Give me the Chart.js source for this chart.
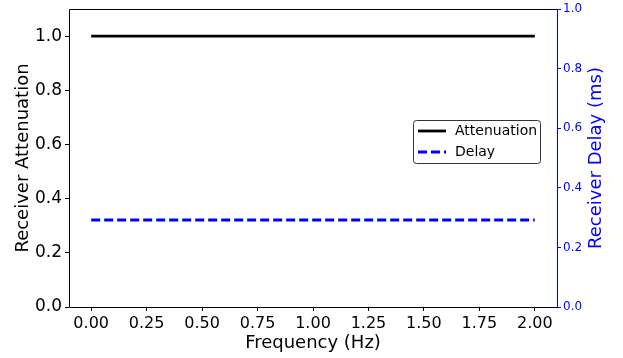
<!DOCTYPE html>
<html>
<head>
<meta charset="utf-8">
<script src="https://cdn.jsdelivr.net/npm/chart.js@4.4.0/dist/chart.umd.min.js"></script>
<style>
  html, body { margin: 0; padding: 0; background: #fff; }
  #wrap { width: 623px; height: 358px; }
</style>
</head>
<body>
<div id="wrap"><canvas id="chart" width="623" height="358"></canvas></div>
<script>
// data
const frequency = [0.0, 0.5, 1.0, 1.5, 2.0];
const attenuation = [1.0, 1.0, 1.0, 1.0, 1.0];
const delayMs = [0.292, 0.292, 0.292, 0.292, 0.292];

const xTicks = [0.0, 0.25, 0.5, 0.75, 1.0, 1.25, 1.5, 1.75, 2.0];
const leftTicks = [0.0, 0.2, 0.4, 0.6, 0.8, 1.0];
const rightTicks = [0.0, 0.2, 0.4, 0.6, 0.8, 1.0];

const FONT = "'DejaVu Sans', sans-serif";
const BLUE = '#0000ff';
const RIGHT_TITLE = 'Receiver Delay (ms)';

// box round the plot: black, right spine blue; right title drawn bottom-to-top
const framePlugin = {
  id: 'frame',
  afterDraw(chart) {
    const { ctx, chartArea: a } = chart;
    ctx.save();
    ctx.lineWidth = 1;
    ctx.strokeStyle = '#000';
    ctx.beginPath();
    ctx.moveTo(a.right, a.top + 0.5);
    ctx.lineTo(a.left + 0.5, a.top + 0.5);
    ctx.lineTo(a.left + 0.5, a.bottom + 0.5);
    ctx.lineTo(a.right, a.bottom + 0.5);
    ctx.stroke();
    ctx.strokeStyle = BLUE;
    ctx.beginPath();
    ctx.moveTo(a.right + 0.5, a.top);
    ctx.lineTo(a.right + 0.5, a.bottom + 1);
    ctx.stroke();

    // twin axis title, same direction as the left one
    ctx.translate(a.right + 39, (a.top + a.bottom) / 2);
    ctx.rotate(-Math.PI / 2);
    ctx.fillStyle = BLUE;
    ctx.font = '18px ' + FONT;
    ctx.textAlign = 'center';
    ctx.textBaseline = 'middle';
    ctx.fillText(RIGHT_TITLE, 0, 0);
    ctx.restore();
  }
};

// legend box inside the plot, like matplotlib
const legendPlugin = {
  id: 'boxLegend',
  afterDraw(chart) {
    const { ctx, chartArea: a } = chart;
    const w = 127, h = 43;
    const x = a.right - 17 - w, y = a.top + 111;
    ctx.save();
    ctx.fillStyle = 'rgba(255,255,255,0.9)';
    ctx.strokeStyle = '#333';
    ctx.lineWidth = 1;
    ctx.beginPath();
    ctx.roundRect(x + 0.5, y + 0.5, w, h, 3);
    ctx.fill();
    ctx.stroke();
    chart.data.datasets.forEach((ds, i) => {
      const ly = y + 11 + i * 21;
      ctx.strokeStyle = ds.borderColor;
      ctx.lineWidth = ds.borderWidth;
      ctx.setLineDash(ds.borderDash || []);
      ctx.beginPath();
      ctx.moveTo(x + 5, ly);
      ctx.lineTo(x + 33, ly);
      ctx.stroke();
      ctx.setLineDash([]);
      ctx.fillStyle = '#000';
      ctx.font = '14px ' + FONT;
      ctx.textBaseline = 'middle';
      ctx.fillText(ds.label, x + 42, ly);
    });
    ctx.restore();
  }
};

// keep the library from adding room for half tick labels
function noPad(axis) {
  axis.paddingTop = 0;
  axis.paddingBottom = 0;
  axis.paddingLeft = 0;
  axis.paddingRight = 0;
}

new Chart(document.getElementById('chart'), {
  type: 'line',
  data: {
    labels: frequency,
    datasets: [{
      label: 'Attenuation',
      data: frequency.map((f, i) => ({ x: f, y: attenuation[i] })),
      borderColor: '#000',
      borderWidth: 2.8,
      pointRadius: 0,
      yAxisID: 'y'
    }, {
      label: 'Delay',
      data: frequency.map((f, i) => ({ x: f, y: delayMs[i] })),
      borderColor: BLUE,
      borderWidth: 2.8,
      borderDash: [9, 4],
      pointRadius: 0,
      yAxisID: 'y2'
    }]
  },
  options: {
    responsive: false,
    animation: false,
    layout: { padding: { top: 9, left: 13, right: 0, bottom: 0 } },
    plugins: { legend: { display: false }, tooltip: { enabled: false } },
    scales: {
      x: {
        type: 'linear',
        min: -0.1,
        max: 2.1,
        afterBuildTicks: axis => { axis.ticks = xTicks.map(v => ({ value: v })); },
        afterFit: axis => { axis.height = 51; noPad(axis); },
        border: { display: false },
        grid: { drawOnChartArea: false, drawTicks: true, tickLength: 4, color: '#000' },
        ticks: {
          color: '#000', font: { family: FONT, size: 16 }, padding: 3,
          maxRotation: 0, autoSkip: false,
          callback: v => v.toFixed(2)
        },
        title: { display: true, text: 'Frequency (Hz)', color: '#000',
                 font: { family: FONT, size: 18 }, padding: { top: 0, bottom: 4 } }
      },
      y: {
        position: 'left',
        min: 0,
        max: 1.1,
        afterBuildTicks: axis => { axis.ticks = leftTicks.map(v => ({ value: v })); },
        afterFit: axis => { axis.width = 56; noPad(axis); },
        border: { display: false },
        grid: { drawOnChartArea: false, drawTicks: true, tickLength: 4, color: '#000' },
        ticks: { color: '#000', font: { family: FONT, size: 17 }, padding: 3,
                 callback: v => v.toFixed(1) },
        title: { display: true, text: 'Receiver Attenuation', color: '#000',
                 font: { family: FONT, size: 18 }, padding: { top: 0, bottom: 0 } }
      },
      y2: {
        position: 'right',
        min: 0,
        max: 1.0,
        afterBuildTicks: axis => { axis.ticks = rightTicks.map(v => ({ value: v })); },
        afterFit: axis => { axis.width = 66; noPad(axis); },
        border: { display: false },
        grid: { drawOnChartArea: false, drawTicks: true, tickLength: 4, color: BLUE },
        ticks: { color: BLUE, font: { family: FONT, size: 12 }, padding: 2,
                 callback: v => v.toFixed(1) },
        title: { display: false }
      }
    }
  },
  plugins: [framePlugin, legendPlugin]
});
</script>
</body>
</html>
